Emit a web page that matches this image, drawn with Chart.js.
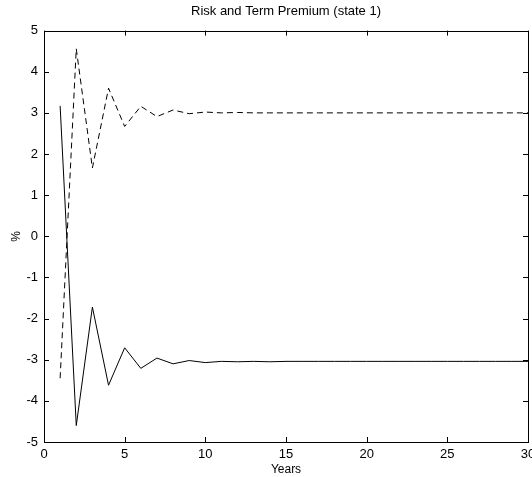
<!DOCTYPE html>
<html>
<head>
<meta charset="utf-8">
<title>Risk and Term Premium (state 1)</title>
<script src="https://cdn.jsdelivr.net/npm/chart.js@4/dist/chart.umd.min.js"></script>
<style>
  body { margin: 0; background: #fff; }
  #wrap { width: 532px; height: 477px; }
</style>
</head>
<body>
<div id="wrap"><canvas id="premChart"></canvas></div>
<script>
// years 1..30
const years = [1, 2, 3, 4, 5, 6, 7, 8, 9, 10, 11, 12, 13, 14, 15,
  16, 17, 18, 19, 20, 21, 22, 23, 24, 25, 26, 27, 28, 29, 30];

// solid line
const riskPremium = [3.17, -4.6, -1.72, -3.62, -2.71, -3.21, -2.96, -3.1, -3.02, -3.07,
  -3.04, -3.05, -3.04, -3.05, -3.04, -3.04, -3.04, -3.04, -3.04, -3.04,
  -3.04, -3.04, -3.04, -3.04, -3.04, -3.04, -3.04, -3.04, -3.04, -3.04];

// dashed line
const termPremium = [-3.45, 4.56, 1.66, 3.6, 2.67, 3.16, 2.91, 3.07, 2.98, 3.02,
  3.0, 3.01, 3.0, 3.0, 3.0, 3.0, 3.0, 3.0, 3.0, 3.0,
  3.0, 3.0, 3.0, 3.0, 3.0, 3.0, 3.0, 3.0, 3.0, 3.0];

const xTicks = [0, 5, 10, 15, 20, 25, 30];
const yTicks = [-5, -4, -3, -2, -1, 0, 1, 2, 3, 4, 5];

const toPoints = (vals) => vals.map((v, i) => ({ x: years[i], y: v }));

// matlab style box with ticks pointing inward on all four sides
const boxTicks = {
  id: 'boxTicks',
  afterDraw(chart) {
    const { ctx, chartArea: a, scales } = chart;
    const len = 5;
    ctx.save();
    ctx.strokeStyle = '#000';
    ctx.lineWidth = 1;
    ctx.beginPath();
    xTicks.forEach(t => {
      const px = Math.round(scales.x.getPixelForValue(t)) + 0.5;
      ctx.moveTo(px, a.bottom); ctx.lineTo(px, a.bottom - len);
      ctx.moveTo(px, a.top); ctx.lineTo(px, a.top + len);
    });
    yTicks.forEach(t => {
      const py = Math.round(scales.y.getPixelForValue(t)) + 0.5;
      ctx.moveTo(a.left, py); ctx.lineTo(a.left + len, py);
      ctx.moveTo(a.right, py); ctx.lineTo(a.right - len, py);
    });
    ctx.stroke();
    ctx.strokeRect(Math.round(a.left) + 0.5, Math.round(a.top) + 0.5,
      Math.round(a.right - a.left), Math.round(a.bottom - a.top));
    ctx.restore();
  }
};

const font = { family: 'Liberation Sans, Arial, Helvetica, sans-serif', size: 13 };

new Chart(document.getElementById('premChart'), {
  type: 'line',
  data: {
    datasets: [
      {
        data: toPoints(riskPremium),
        borderColor: '#000',
        borderWidth: 1,
        pointRadius: 0,
        tension: 0,
        fill: false
      },
      {
        data: toPoints(termPremium),
        borderColor: '#000',
        borderWidth: 1,
        borderDash: [6, 4],
        pointRadius: 0,
        tension: 0,
        fill: false
      }
    ]
  },
  options: {
    responsive: true,
    maintainAspectRatio: false,
    animation: false,
    layout: { padding: { left: 0, right: 4, top: 0, bottom: 0 } },
    plugins: {
      legend: { display: false },
      tooltip: { enabled: false },
      title: {
        display: true,
        fullSize: false,
        text: 'Risk and Term Premium (state 1)',
        color: '#000',
        font: { family: font.family, size: 13, weight: 'normal' },
        padding: { top: 4, bottom: 11 }
      }
    },
    scales: {
      x: {
        type: 'linear',
        min: 0,
        max: 30,
        grid: { display: false, drawTicks: false },
        border: { display: false },
        ticks: {
          stepSize: 5,
          color: '#000',
          font: font,
          padding: 5,
          maxRotation: 0
        },
        title: {
          display: true,
          text: 'Years',
          color: '#000',
          font: { family: font.family, size: 12 },
          padding: { top: 0, bottom: 0 }
        },
        afterFit(scale) {
          scale.height = 35;
          scale.paddingLeft = 0;
          scale.paddingRight = 0;
        }
      },
      y: {
        min: -5,
        max: 5,
        grid: { display: false, drawTicks: false },
        border: { display: false },
        ticks: {
          stepSize: 1,
          color: '#000',
          font: font,
          padding: 6
        },
        title: {
          display: true,
          text: '%',
          color: '#000',
          font: { family: font.family, size: 12 },
          padding: { top: 9, bottom: 0 }
        },
        afterFit(scale) {
          scale.width = 44;
        }
      }
    }
  },
  plugins: [boxTicks]
});
</script>
</body>
</html>
